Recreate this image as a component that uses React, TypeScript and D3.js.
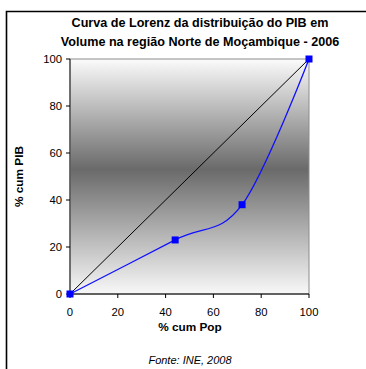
import React from "react";
import * as d3 from "d3";

const popCum = [0, 44, 72, 100];
const pibCum = [0, 23, 38, 100];
const equality = [0, 100];
const xTicks = [0, 20, 40, 60, 80, 100];
const yTicks = [0, 20, 40, 60, 80, 100];
const titleLines = [
  "Curva de Lorenz da distribuição do PIB em",
  "Volume na região Norte de Moçambique - 2006",
];
const xLabel = "% cum Pop";
const yLabel = "% cum PIB";
const source = "Fonte: INE, 2008";

export default function App() {
  const W = 366, H = 369;
  const left = 70, right = 309, top = 59, bottom = 294;
  const x = d3.scaleLinear().domain([0, 100]).range([left, right]);
  const y = d3.scaleLinear().domain([0, 100]).range([bottom, top]);
  const pts: [number, number][] = popCum.map((p, i) => [p, pibCum[i]]);
  const lorenz = d3
    .line<[number, number]>()
    .x((d) => x(d[0]))
    .y((d) => y(d[1]))
    .curve(d3.curveCardinal.tension(0))(pts);
  const eq = d3
    .line<number>()
    .x((d) => x(d))
    .y((d) => y(d))(equality);
  const font = "'Liberation Sans', Arial, sans-serif";
  return (
    <svg
      width={W}
      height={H}
      style={{ position: "absolute", left: 0, top: 0, fontFamily: font }}
    >
      <defs>
        <linearGradient id="bg" x1="0" y1="0" x2="0" y2="1">
          <stop offset="0%" stopColor="#fbfbfb" />
          <stop offset="47%" stopColor="#6a6a6a" />
          <stop offset="100%" stopColor="#f8f8f8" />
        </linearGradient>
      </defs>
      <rect x={0} y={0} width={W} height={H} fill="#fff" />
      <path
        d={`M6.5,${H + 5}V11.5H${W + 5}`}
        fill="none"
        stroke="#000"
        strokeWidth={1.6}
      />
      {titleLines.map((t, i) => (
        <text
          key={i}
          x={200}
          y={27 + i * 19}
          textAnchor="middle"
          fontSize={12.6}
          fontWeight="bold"
        >
          {t}
        </text>
      ))}
      <rect
        x={left}
        y={top}
        width={right - left}
        height={bottom - top}
        fill="url(#bg)"
        stroke="#8c8c8c"
        strokeWidth={1}
      />
      <line x1={left} x2={left} y1={top} y2={bottom} stroke="#555" strokeWidth={1.5} />
      <line x1={left} x2={right} y1={bottom} y2={bottom} stroke="#000" strokeWidth={1} />
      {yTicks.map((t) => (
        <g key={"y" + t}>
          <line x1={left - 4} x2={left} y1={y(t)} y2={y(t)} stroke="#000" />
          <text x={62} y={y(t) + 4} textAnchor="end" fontSize={11.3}>
            {t}
          </text>
        </g>
      ))}
      {xTicks.map((t) => (
        <g key={"x" + t}>
          <line x1={x(t)} x2={x(t)} y1={bottom} y2={bottom + 4} stroke="#000" />
          <text x={x(t)} y={316} textAnchor="middle" fontSize={11.3}>
            {t}
          </text>
        </g>
      ))}
      <path d={eq || ""} fill="none" stroke="#000" strokeWidth={1} />
      <path d={lorenz || ""} fill="none" stroke="#1010ff" strokeWidth={1.3} />
      {pts.map((d, i) => (
        <rect
          key={i}
          x={x(d[0]) - 3.5}
          y={y(d[1]) - 3.5}
          width={7}
          height={7}
          fill="#0000ff"
        />
      ))}
      <text x={190} y={331} textAnchor="middle" fontSize={11.8} fontWeight="bold">
        {xLabel}
      </text>
      <text
        transform={`translate(23,${(top + bottom) / 2}) rotate(-90)`}
        textAnchor="middle"
        fontSize={11.8}
        fontWeight="bold"
      >
        {yLabel}
      </text>
      <text x={190} y={364} textAnchor="middle" fontSize={11} fontStyle="italic">
        {source}
      </text>
    </svg>
  );
}
